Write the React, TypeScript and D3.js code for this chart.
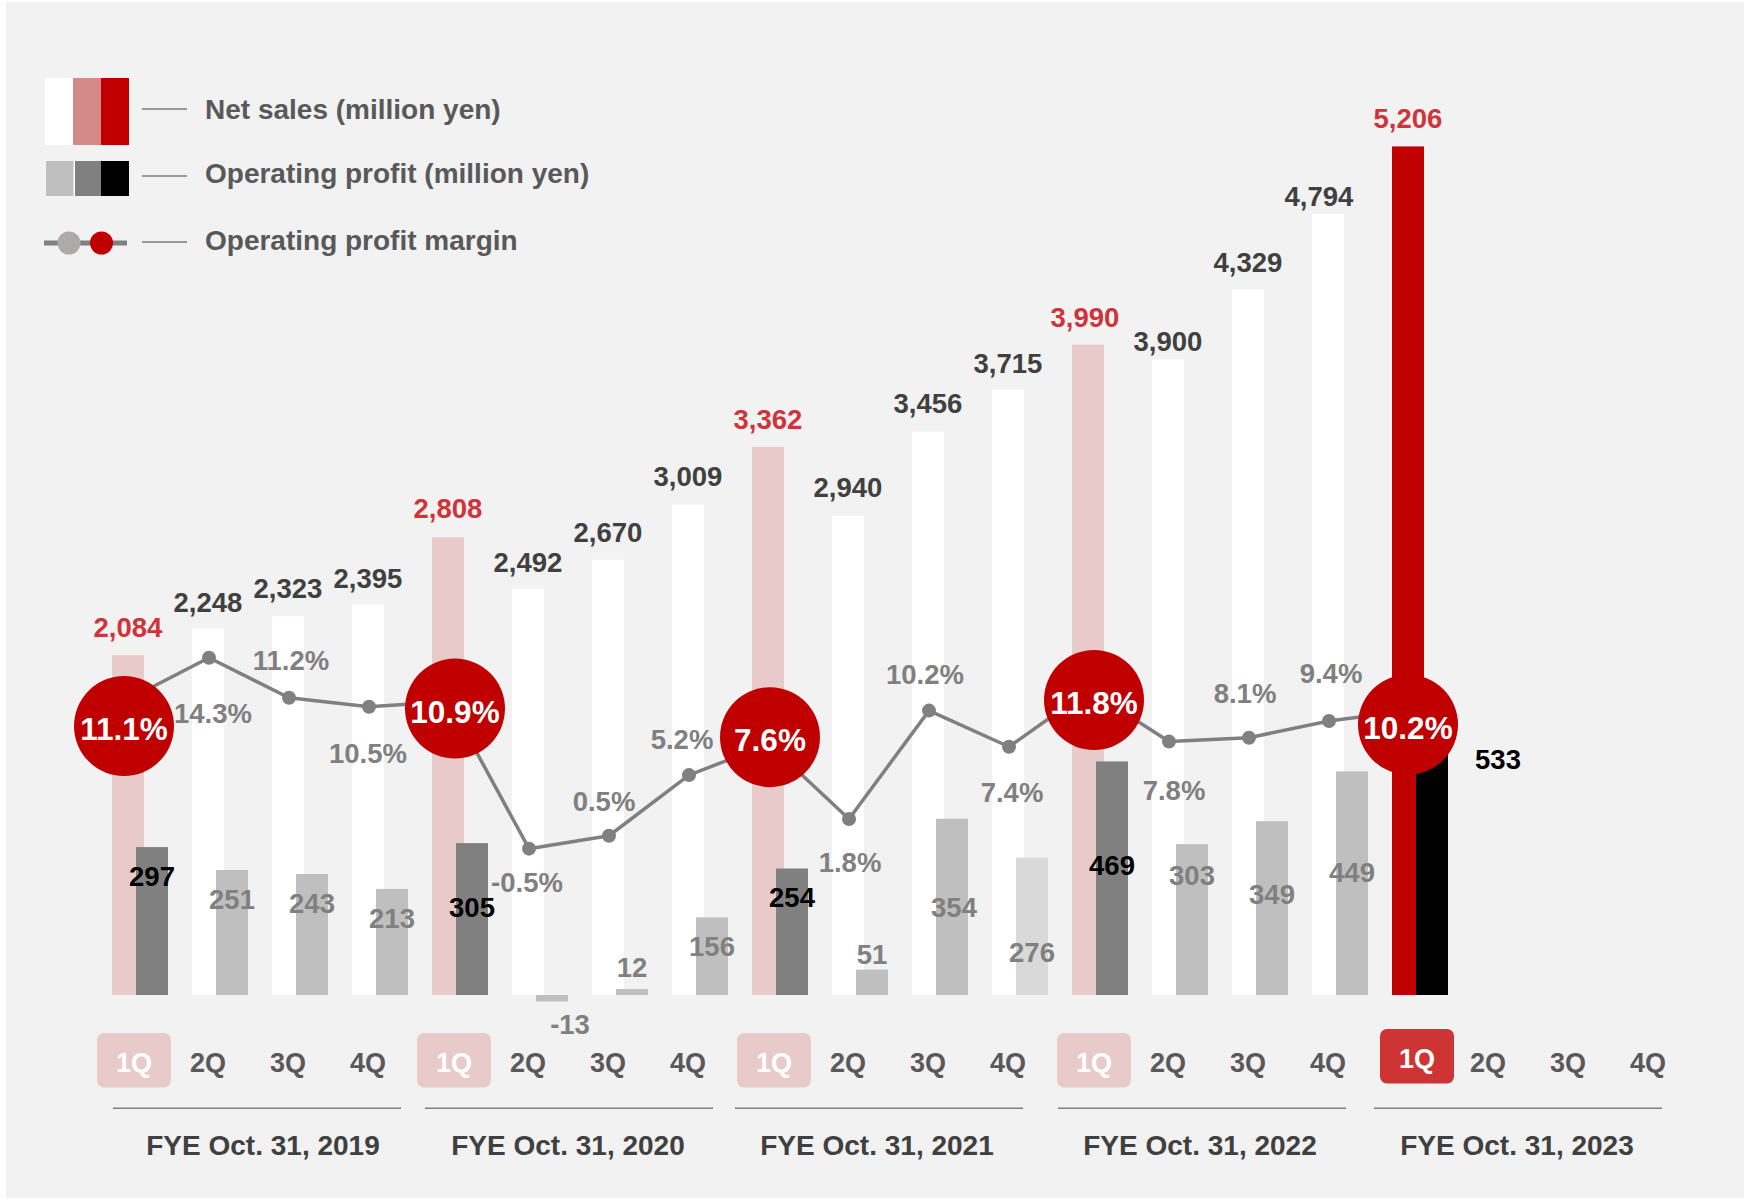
import React from 'react';
import * as d3 from 'd3';

// ---- data ----
const fiscalYears = ['FYE Oct. 31, 2019', 'FYE Oct. 31, 2020', 'FYE Oct. 31, 2021', 'FYE Oct. 31, 2022', 'FYE Oct. 31, 2023'];
const quarterNames = ['1Q', '2Q', '3Q', '4Q'];

// million yen, in quarter order (2023 has 1Q only)
const netSales = [2084, 2248, 2323, 2395, 2808, 2492, 2670, 3009, 3362, 2940, 3456, 3715, 3990, 3900, 4329, 4794, 5206];
const operatingProfit = [297, 251, 243, 213, 305, -13, 12, 156, 254, 51, 354, 276, 469, 303, 349, 449, 533];
const operatingMargin = [11.1, 14.3, 11.2, 10.5, 10.9, -0.5, 0.5, 5.2, 7.6, 1.8, 10.2, 7.4, 11.8, 7.8, 8.1, 9.4, 10.2];

const legendItems = ['Net sales (million yen)', 'Operating profit (million yen)', 'Operating profit margin'];

// ---- label placement (layout only) ----
const netLabelNudge = [[0, -18], [0, -17], [0, -18], [0, -17], [0, -19], [0, -17], [0, -18], [0, -19], [0, -18], [0, -19], [0, -19], [0, -16], [-3, -18], [0, -8], [0, -17], [-9, -8], [0, -18]];
const opLabelNudge = [[0, 39], [0, 39], [0, 39], [0, 39], [0, 74], [18, 33], [0, -12], [0, 39], [0, 38], [0, -6], [2, 98], [0, 104], [0, 114], [0, 41], [0, 83], [0, 111], [66, 39]];
const marginLabelNudge = [null, [4, 65], [2, -28], [-1, 56], null, [-2, 43], [-5, -25], [-7, -26], null, [1, 53], [-4, -27], [3, 55], null, [5, 58], [-4, -35], [2, -38], null];
const circleNudge = [[-5, 27], [6, 7], [1, -7], [5, 10], [-1, 14]];
const yearLineNudge = [9, 1, -9, -6, -10];
const yearTextNudge = [15, 0, -11, -8, -11];

const W = 1749;
const H = 1203;
const FONT = '"Liberation Sans", Arial, Helvetica, sans-serif';
const RED = '#c00000';
const LABEL_RED = '#d0343a';
const PINK = '#e8caca';

const quarterIds = fiscalYears.flatMap((fy, yi) => quarterNames.map(q => `${yi}-${q}`));
const CURRENT = netSales.length - 1;

const App = () => {
  const x = d3.scaleBand<string>()
    .domain(quarterIds)
    .range([100, 1700])
    .paddingInner(0.3)
    .paddingOuter(0.15);
  const barW = 32;
  const opShift = 24;

  const ySales = d3.scaleLinear().domain([0, 5000]).range([995, 180]);
  const yProfit = d3.scaleLinear().domain([0, 500]).range([995, 746]);
  const yMargin = d3.scaleLinear().domain([0, 10]).range([842.2, 713.2]);

  const pointX = (i: number) => (x(quarterIds[i]) as number) + barW / 2 + 1;
  const isFirstQ = (i: number) => i % 4 === 0;

  const line = d3.line<number>()
    .x((d, i) => pointX(i))
    .y(d => yMargin(d));

  const netFill = (i: number) => (i === CURRENT ? RED : isFirstQ(i) ? PINK : '#ffffff');
  const opFill = (i: number) => {
    if (i === CURRENT) return '#000000';
    if (isFirstQ(i)) return '#808080';
    if (i === 11) return '#d9d9d9';
    return '#bfbfbf';
  };

  return (
    <svg width={W} height={H} style={{ position: 'absolute', left: 0, top: 0, display: 'block', background: '#ffffff' }} fontFamily={FONT}>
      <rect x={6} y={2} width={1738} height={1196} fill="#f2f2f2" />

      {/* legend */}
      <g>
        <rect x={45} y={78} width={28} height={67} fill="#ffffff" />
        <rect x={73} y={78} width={28} height={67} fill="#d48a88" />
        <rect x={101} y={78} width={28} height={67} fill={RED} />
        <rect x={46} y={161} width={83} height={35} fill="#ffffff" />
        <rect x={46} y={161} width={27.5} height={35} fill="#bfbfbf" />
        <rect x={75} y={161} width={26} height={35} fill="#808080" />
        <rect x={101} y={161} width={28} height={35} fill="#000000" />
        <line x1={44} x2={127} y1={243} y2={243} stroke="#808080" strokeWidth={5} />
        <circle cx={69} cy={243} r={11.5} fill="#aeaaaa" />
        <circle cx={101.5} cy={243} r={11.5} fill={RED} />
        {[109, 176, 242].map((ly, k) => (
          <line key={k} x1={142} x2={187} y1={ly} y2={ly} stroke="#9a9a9a" strokeWidth={2} />
        ))}
        {legendItems.map((t, k) => (
          <text key={t} x={205} y={[119, 183, 250][k]} fontSize={28} fontWeight="bold" fill="#595959">{t}</text>
        ))}
      </g>

      {/* net sales bars */}
      {netSales.map((v, i) => (
        <rect key={`n${i}`} x={x(quarterIds[i])} y={ySales(v)} width={barW} height={ySales(0) - ySales(v)} fill={netFill(i)} />
      ))}

      {/* operating profit bars */}
      {operatingProfit.map((v, i) => (
        <rect key={`o${i}`} x={(x(quarterIds[i]) as number) + opShift} y={Math.min(yProfit(v), yProfit(0))}
          width={barW} height={Math.abs(yProfit(0) - yProfit(v))} fill={opFill(i)} />
      ))}

      {/* margin line */}
      <path d={line(operatingMargin) || ''} fill="none" stroke="#808080" strokeWidth={3.5} strokeLinejoin="round" />
      {operatingMargin.map((m, i) => (isFirstQ(i) ? null : (
        <circle key={`p${i}`} cx={pointX(i)} cy={yMargin(m)} r={7} fill="#808080" />
      )))}

      {/* net sales labels */}
      {netSales.map((v, i) => (
        <text key={`nl${i}`} x={(x(quarterIds[i]) as number) + barW / 2 + netLabelNudge[i][0]} y={ySales(v) + netLabelNudge[i][1]}
          textAnchor="middle" fontSize={27.5} fontWeight="bold" fill={isFirstQ(i) ? LABEL_RED : '#404040'}>
          {d3.format(',')(v)}
        </text>
      ))}

      {/* operating profit labels */}
      {operatingProfit.map((v, i) => (
        <text key={`ol${i}`} x={(x(quarterIds[i]) as number) + opShift + barW / 2 + opLabelNudge[i][0]}
          y={yProfit(v) + opLabelNudge[i][1]}
          textAnchor="middle" fontSize={27.5} fontWeight="bold" fill={isFirstQ(i) ? '#000000' : '#808080'}>
          {v}
        </text>
      ))}

      {/* margin labels */}
      {operatingMargin.map((m, i) => {
        const nudge = marginLabelNudge[i];
        if (!nudge) return null;
        return (
          <text key={`ml${i}`} x={pointX(i) + nudge[0]} y={yMargin(m) + nudge[1]} textAnchor="middle"
            fontSize={27.5} fontWeight="bold" fill="#808080">
            {`${m.toFixed(1)}%`}
          </text>
        );
      })}

      {/* 1Q margin badges */}
      {operatingMargin.map((m, i) => {
        if (!isFirstQ(i)) return null;
        const [dx, dy] = circleNudge[i / 4];
        const cx = pointX(i) + dx;
        const cy = yMargin(m) + dy;
        return (
          <g key={`c${i}`}>
            <circle cx={cx} cy={cy} r={50} fill={RED} />
            <text x={cx} y={cy + 14} textAnchor="middle" fontSize={31.5} fontWeight="bold" fill="#ffffff">{`${m.toFixed(1)}%`}</text>
          </g>
        );
      })}

      {/* quarter labels */}
      {quarterIds.map((id, i) => {
        const cx = (x(id) as number) + barW / 2;
        const q = quarterNames[i % 4];
        if (isFirstQ(i)) {
          const current = i === CURRENT;
          const bx = cx + (current ? 9 : 6);
          const by = current ? 1029 : 1033;
          return (
            <g key={`q${i}`}>
              <rect x={bx - 37} y={by} width={74} height={54.5} rx={7} fill={current ? '#cf3434' : PINK} />
              <text x={bx} y={by + 38.5} textAnchor="middle" fontSize={27} fontWeight="bold" fill="#ffffff">{q}</text>
            </g>
          );
        }
        return (
          <text key={`q${i}`} x={cx} y={1071.7} textAnchor="middle" fontSize={27} fontWeight="bold" fill="#595959">{q}</text>
        );
      })}

      {/* fiscal year groups */}
      {fiscalYears.map((fy, yi) => {
        const first = (x(quarterIds[yi * 4]) as number) + barW / 2;
        const last = (x(quarterIds[yi * 4 + 3]) as number) + barW / 2;
        const c = (first + last) / 2;
        return (
          <g key={fy}>
            <line x1={c + yearLineNudge[yi] - 144} x2={c + yearLineNudge[yi] + 144} y1={1108.3} y2={1108.3} stroke="#808080" strokeWidth={1.5} />
            <text x={c + yearTextNudge[yi]} y={1155} textAnchor="middle" fontSize={28} fontWeight="bold" fill="#404040">{fy}</text>
          </g>
        );
      })}
    </svg>
  );
};

export default App;
